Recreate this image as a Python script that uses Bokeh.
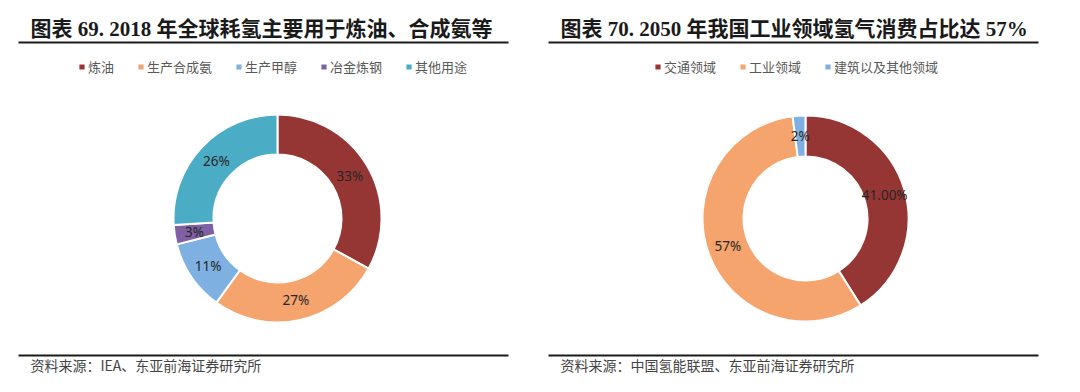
import numpy as np
from bokeh.plotting import figure
from bokeh.models import ColumnDataSource, Range1d, Legend, LegendItem
from bokeh.core.properties import value
from bokeh.embed import file_html
from bokeh.resources import INLINE

# ---------------- data ----------------
left_title = "图表 69. 2018 年全球耗氢主要用于炼油、合成氨等"
left_categories = ["炼油", "生产合成氨", "生产甲醇", "冶金炼钢", "其他用途"]
left_values = [33, 27, 11, 3, 26]
left_labels = ["33%", "27%", "11%", "3%", "26%"]
left_source = "资料来源：IEA、东亚前海证券研究所"

right_title = "图表 70. 2050 年我国工业领域氢气消费占比达 57%"
right_categories = ["交通领域", "工业领域", "建筑以及其他领域"]
right_values = [41, 57, 2]
right_labels = ["41.00%", "57%", "2%"]
right_source = "资料来源：中国氢能联盟、东亚前海证券研究所"

left_colors = ["#963634", "#F4A46C", "#7EB1E2", "#7E60A3", "#4BACC6"]
right_colors = ["#963634", "#F4A46C", "#7EB1E2"]

# ---------------- layout (page pixel coordinates) ----------------
W, H = 1064, 376
TOP = 392  # data y = TOP - page y

CJK = "Noto Sans CJK SC"
TITLE_FONT = "Liberation Serif, Noto Sans CJK SC"

p = figure(width=W, height=H, output_backend="svg", toolbar_location=None,
           x_range=Range1d(0, W), y_range=Range1d(TOP - H, TOP),
           min_border=0, border_fill_color="white", outline_line_color=None)
p.axis.visible = False
p.grid.visible = False


def donut(cx, cy, values, labels, colors, cats, r_in, r_out, legend_x, legend_y):
    vals = np.array(values, dtype=float)
    frac = vals / vals.sum()
    cum = np.concatenate([[0.0], np.cumsum(frac)])
    start = np.pi / 2 - 2 * np.pi * cum[:-1]
    end = np.pi / 2 - 2 * np.pi * cum[1:]
    mid = (start + end) / 2
    r_mid = (r_in + r_out) / 2
    src = ColumnDataSource(dict(
        x=[cx] * len(vals), y=[cy] * len(vals), start=start, end=end,
        color=colors, cat=cats, label=labels,
        lx=cx + r_mid * np.cos(mid), ly=cy + r_mid * np.sin(mid)))
    r = p.annular_wedge(x="x", y="y", inner_radius=r_in, outer_radius=r_out,
                        inner_radius_units="screen", outer_radius_units="screen",
                        start_angle="start", end_angle="end", direction="clock",
                        fill_color="color", line_color="white", line_width=2,
                        source=src)
    p.text(x="lx", y="ly", text="label", source=src, text_align="center",
           text_baseline="middle", text_font=value("Noto Sans"),
           text_font_size="13.5px", text_color="#262626")
    items = [LegendItem(label=c, renderers=[r], index=i) for i, c in enumerate(cats)]
    leg = Legend(items=items, orientation="horizontal", location=(legend_x, legend_y),
                 padding=0, margin=0, spacing=22, glyph_width=9, glyph_height=9,
                 label_standoff=2, label_height=16,
                 label_text_font=CJK, label_text_font_size="13px",
                 label_text_color="#595959", border_line_alpha=0,
                 background_fill_alpha=0)
    p.add_layout(leg, "center")


def frame(x0, x1, title, source):
    p.segment(x0=[x0, x0], y0=[TOP - 42, TOP - 355], x1=[x1, x1],
              y1=[TOP - 42, TOP - 355], line_color="#1a1a1a", line_width=2)
    p.text(x=[x0 + 12], y=[TOP - 28], text=[title], text_align="left",
           text_baseline="middle", text_font=value(TITLE_FONT),
           text_font_style="bold", text_font_size="21px", text_color="#1a1a1a")
    p.text(x=[x0 + 12], y=[TOP - 364], text=[source], text_align="left",
           text_baseline="middle", text_font=value(CJK),
           text_font_size="14px", text_color="#444444")


frame(18, 508, left_title, left_source)
frame(548, 1038, right_title, right_source)

donut(277, TOP - 218, left_values, left_labels, left_colors, left_categories,
      64, 104, 77, 300)
donut(805, TOP - 218, right_values, right_labels, right_colors, right_categories,
      62, 103, 653, 300)

open("out.html", "w").write(file_html(p, INLINE))
